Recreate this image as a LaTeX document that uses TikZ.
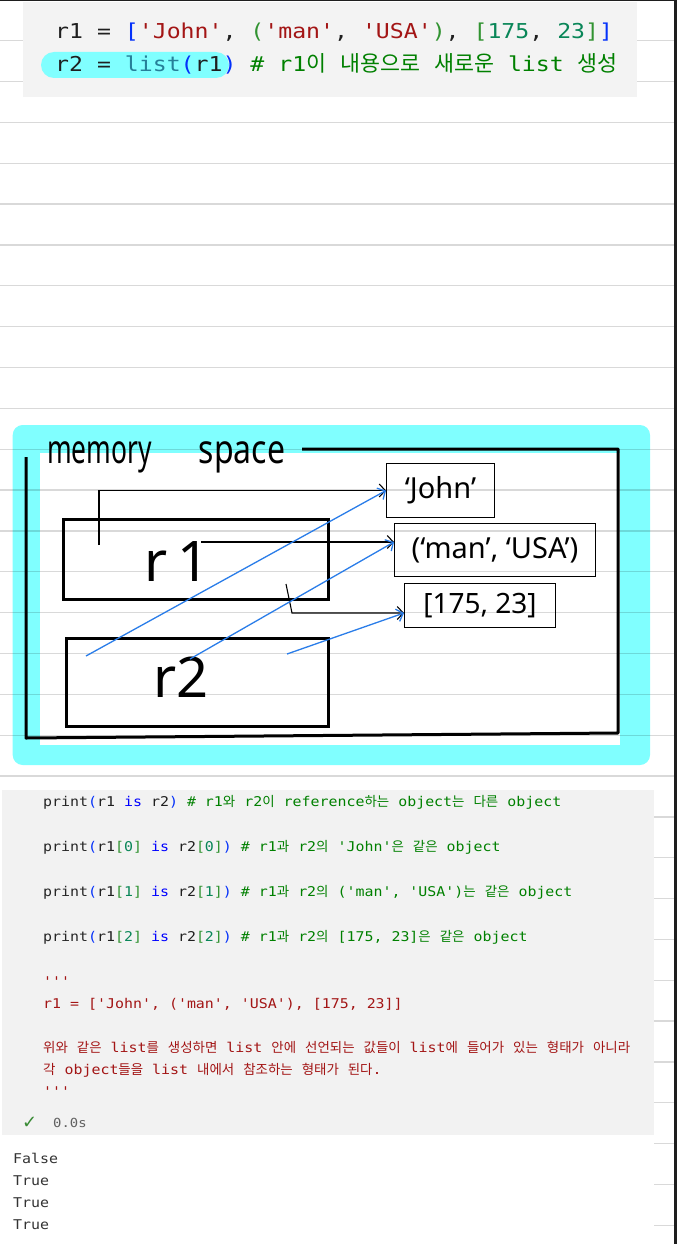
\documentclass[tikz,border=0pt]{standalone}
\usepackage{fontspec}
\usetikzlibrary{arrows.meta}
\newfontfamily\codefont{DejaVu Sans Mono}[FakeStretch=1.13,Ligatures=TeXOff]
\newfontfamily\codefontb{DejaVu Sans Mono}[FakeStretch=1.11,Ligatures=TeXOff]
\newfontfamily\krfont{Noto Sans CJK KR}
\newfontfamily\krfontt{Noto Sans CJK KR}[Scale=1.06]
\newfontfamily\handfont{Noto Sans}[FakeStretch=0.66]
\newfontfamily\handfontb{Noto Sans}[FakeStretch=0.8]
\newfontfamily\handwide{Noto Sans}
\newfontfamily\symfont{DejaVu Sans}
\newcommand\hg[1]{{\krfont #1}}
\newcommand\hgt[1]{{\krfontt #1}}
\newcommand\kc[2]{\textcolor{#1}{#2}}
\definecolor{tx}{HTML}{1F1F1F}
\definecolor{bb}{HTML}{0431FA}
\definecolor{bg}{HTML}{319331}
\definecolor{st}{HTML}{A31515}
\definecolor{nm}{HTML}{098658}
\definecolor{ty}{HTML}{267F99}
\definecolor{kw}{HTML}{0000FF}
\definecolor{cm}{HTML}{008000}
\definecolor{pr}{HTML}{262626}
\definecolor{memcyan}{HTML}{80FFFF}
\definecolor{codegrey}{HTML}{F3F3F3}
\definecolor{codegreyb}{HTML}{F2F2F2}
\definecolor{darkborder}{HTML}{1E1E1E}
\definecolor{arrowblue}{HTML}{2A7DE9}
\definecolor{checkgreen}{HTML}{388A34}
\definecolor{timegrey}{HTML}{616161}
\definecolor{outtext}{HTML}{333333}
\begin{document}
\begin{tikzpicture}[x=1pt,y=-1pt,
  ruled/.style={black, opacity=0.15, line width=1.3pt},
  codetop/.style={anchor=base west, inner sep=0, font=\codefont\fontsize{20.5}{24}\selectfont},
  codebot/.style={anchor=base west, inner sep=0, font=\codefontb\fontsize{13.45}{16}\selectfont},
  membox/.style={draw, line width=3pt, anchor=north west, inner sep=0},
  valbox/.style={draw, line width=1pt, anchor=north west, inner sep=0, font=\handwide\fontsize{29}{30}\selectfont},
  handlabel/.style={anchor=base, inner sep=0, font=\handwide\fontsize{56}{56}\selectfont},
  blk/.style={draw=black, line width=1.1pt, -{Straight Barb[length=6pt,width=13pt]}},
  blu/.style={draw=arrowblue, line width=1.3pt, -{Straight Barb[length=6pt,width=13pt]}}
]
\useasboundingbox (0,0) rectangle (677,1244);
\fill[white] (0,0) rectangle (677,1244);
% memory panel background
\fill[memcyan, rounded corners=10pt] (12.7,425) rectangle (650,765);
\fill[white] (40,453) rectangle (620,745);
% ruled paper lines
\foreach \k in {0,...,29}
  \draw[ruled] (0,{40.7+40.85*\k}) -- (674,{40.7+40.85*\k});
% top code cell
\fill[codegrey] (23,2) rectangle (637,97);
\fill[memcyan, rounded corners=13pt] (41,52) rectangle (229,78);
\node[codetop] (line1) at (55,38.5) {\kc{tx}{r1 =} \kc{bb}{[}\kc{st}{'John'}\kc{tx}{,} \kc{bg}{(}\kc{st}{'man'}\kc{tx}{,} \kc{st}{'USA'}\kc{bg}{)}\kc{tx}{,} \kc{bg}{[}\kc{nm}{175}\kc{tx}{,} \kc{nm}{23}\kc{bg}{]}\kc{bb}{]}};
\node[codetop] (line2) at (55,72) {\kc{tx}{r2 =} \kc{ty}{list}\kc{bb}{(}\kc{tx}{r1}\kc{bb}{)} \kc{cm}{\# r1\hgt{이} \hgt{내용으로} \hgt{새로운} list \hgt{생성}}};
% lower panel
\fill[white] (0,786) rectangle (654,1244);
\fill[codegreyb] (2,790) rectangle (654,1135);
% borders of the screenshot
\fill[darkborder] (674,0) rectangle (677,1244);
\fill[darkborder] (0,0) rectangle (677,1.2);
% memory frame
\draw[line width=3pt, line join=round] (302,449) -- (618,449) -- (618,733) -- (26,738) -- (26,457);
\node[anchor=base west, inner sep=0, font=\handfont\fontsize{40}{40}\selectfont] (title) at (47,463) {memory\hspace{47pt}{\handfontb space}};
% r1 / r2 boxes
\node[membox, minimum width=265pt, minimum height=80pt] (r1box) at (62,518) {};
\node[membox, minimum width=262pt, minimum height=88pt] (r2box) at (65,637) {};
\node[handlabel] (r1) at (177,581) {r\hspace{10pt}1};
\node[handlabel] (r2) at (181,697) {r2};
% value boxes
\node[valbox, minimum width=108pt, minimum height=54pt] (john) at (386,463) {‘John’};
\node[valbox, minimum width=201pt, minimum height=53pt] (tup) at (394,523) {(‘man’,\ ‘USA’)};
\node[valbox, minimum width=151pt, minimum height=44pt, font=\handwide\fontsize{28}{30}\selectfont] (lst) at (404,583) {[175,\ 23]};
% reference points
\coordinate (a1) at (99,545);
\coordinate (a2) at (201,542);
\coordinate (a3) at (286,584);
\coordinate (a3b) at (292,613);
\coordinate (b1) at (86,656);
\coordinate (b2) at (190,659);
\coordinate (b3) at (287,654);
% r1 references (black)
\draw[blk] (a1) |- (john.west);
\draw[blk] (a2) -- (a2 -| tup.west);
\draw[blk] (a3) -- (a3b) -- (a3b -| lst.west);
% r2 references (blue)
\draw[blu] (b1) -- (john.west);
\draw[blu] (b2) -- (a2 -| tup.west);
\draw[blu] (b3) -- (a3b -| lst.west);
% lower code
\node[codebot] (p1) at (43,806.5) {\kc{pr}{print}\kc{bb}{(}\kc{tx}{r1} \kc{kw}{is} \kc{tx}{r2}\kc{bb}{)} \kc{cm}{\# r1\hg{와} r2\hg{이} reference\hg{하는} object\hg{는} \hg{다른} object}};
\node[codebot] (p2) at (43,851.5) {\kc{pr}{print}\kc{bb}{(}\kc{tx}{r1}\kc{bg}{[}\kc{nm}{0}\kc{bg}{]} \kc{kw}{is} \kc{tx}{r2}\kc{bg}{[}\kc{nm}{0}\kc{bg}{]}\kc{bb}{)} \kc{cm}{\# r1\hg{과} r2\hg{의} 'John'\hg{은} \hg{같은} object}};
\node[codebot] (p3) at (43,896.5) {\kc{pr}{print}\kc{bb}{(}\kc{tx}{r1}\kc{bg}{[}\kc{nm}{1}\kc{bg}{]} \kc{kw}{is} \kc{tx}{r2}\kc{bg}{[}\kc{nm}{1}\kc{bg}{]}\kc{bb}{)} \kc{cm}{\# r1\hg{과} r2\hg{의} ('man', 'USA')\hg{는} \hg{같은} object}};
\node[codebot] (p4) at (43,941.5) {\kc{pr}{print}\kc{bb}{(}\kc{tx}{r1}\kc{bg}{[}\kc{nm}{2}\kc{bg}{]} \kc{kw}{is} \kc{tx}{r2}\kc{bg}{[}\kc{nm}{2}\kc{bg}{]}\kc{bb}{)} \kc{cm}{\# r1\hg{과} r2\hg{의} [175, 23]\hg{은} \hg{같은} object}};
\node[codebot, text=st] (d1) at (43,986) {'''};
\node[codebot, text=st] (d2) at (43,1008) {r1 = ['John', ('man', 'USA'), [175, 23]]};
\node[codebot, text=st] (d3) at (43,1052) {\hg{위와} \hg{같은} list\hg{를} \hg{생성하면} list \hg{안에} \hg{선언되는} \hg{값들이} list\hg{에} \hg{들어가} \hg{있는} \hg{형태가} \hg{아니라}};
\node[codebot, text=st] (d4) at (43,1074) {\hg{각} object\hg{들을} list \hg{내에서} \hg{참조하는} \hg{형태가} \hg{된다}.};
\node[codebot, text=st] (d5) at (43,1096) {'''};
\node[anchor=base west, inner sep=0, text=checkgreen, font=\symfont\fontsize{18}{18}\selectfont] (chk) at (22,1128) {✓};
\node[anchor=base west, inner sep=0, text=timegrey, font=\codefontb\fontsize{12.5}{14}\selectfont] (tm) at (53,1127) {0.0s};
% output
\node[codebot, text=outtext] (o1) at (13,1163) {False};
\node[codebot, text=outtext] (o2) at (13,1185) {True};
\node[codebot, text=outtext] (o3) at (13,1207) {True};
\node[codebot, text=outtext] (o4) at (13,1229) {True};
\end{tikzpicture}
\end{document}
